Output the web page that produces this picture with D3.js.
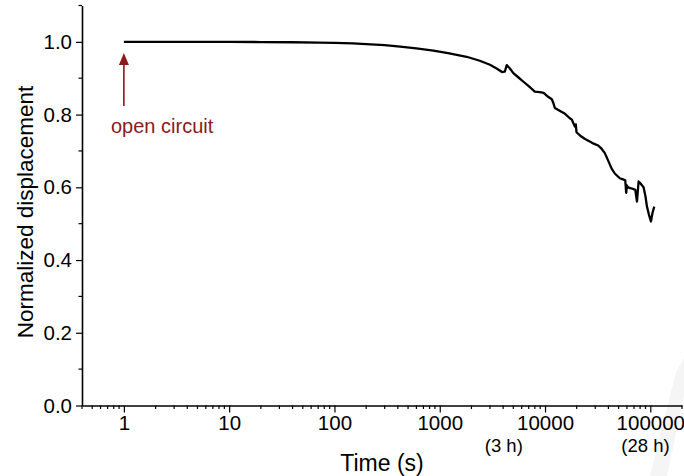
<!DOCTYPE html>
<html><head><meta charset="utf-8">
<script src="https://cdn.jsdelivr.net/npm/d3@7"></script>
<style>body{margin:0;background:#fff}svg{display:block}text{font-family:"Liberation Sans",Arial,sans-serif}</style>
</head><body>
<svg id="c" width="684" height="476"></svg>
<script>
const timeS = [1, 2, 5, 10, 20, 40, 70, 100, 150, 200, 300, 420, 600, 870, 1200, 1800, 2400, 3000, 3500, 3900, 4150, 4330, 4600, 5000, 5600, 6200, 7000, 8000, 8900, 9700, 10700, 11600, 12000, 12400, 13500, 15500, 17200, 18000, 19200, 19600, 19900, 20500, 21600, 24000, 26600, 29000, 32000, 34000, 37000, 40000, 42800, 46000, 51300, 55000, 57800, 59000, 60000, 61500, 64500, 68000, 72000, 73500, 74700, 77400, 80000, 86300, 90000, 92900, 97000, 101400, 105000, 109000];
const displacement = [1.000, 1.000, 1.000, 1.000, 0.9995, 0.999, 0.998, 0.997, 0.996, 0.994, 0.991, 0.987, 0.982, 0.976, 0.969, 0.959, 0.948, 0.937, 0.926, 0.917, 0.918, 0.936, 0.928, 0.914, 0.902, 0.891, 0.878, 0.863, 0.862, 0.860, 0.849, 0.842, 0.832, 0.818, 0.812, 0.802, 0.790, 0.786, 0.767, 0.773, 0.752, 0.748, 0.742, 0.733, 0.726, 0.720, 0.715, 0.708, 0.694, 0.672, 0.652, 0.638, 0.625, 0.622, 0.619, 0.585, 0.605, 0.600, 0.598, 0.596, 0.593, 0.575, 0.561, 0.616, 0.612, 0.600, 0.575, 0.547, 0.525, 0.506, 0.530, 0.547];
const xMajorTicks = [1, 10, 100, 1000, 10000, 100000];
const yMajorTicks = [0, 0.2, 0.4, 0.6, 0.8, 1.0];
const hourLabels = [{t: 4060, label: "(3 h)"}, {t: 90000, label: "(28 h)"}];
const annotation = {t: 1, label: "open circuit"};

const svg = d3.select("#c");
const x = d3.scaleLog().domain([0.4, 2e5]).range([82, 682]);
const y = d3.scaleLinear().domain([0, 1.1]).range([405.5, 5.5]);

// faint watermark band
svg.append("path").attr("d", "M676,372 L684,358 L684,395 L667,476 L650,476 Z").attr("fill", "#f5f5f5");

// minor ticks
const xMinor = [];
for (let e = -1; e <= 5; e++) for (let m = 1; m <= 9; m++) {
  const v = m * Math.pow(10, e);
  if (v >= 0.4 && v <= 2e5 && !xMajorTicks.includes(v)) xMinor.push(v);
}
const yMinor = d3.range(0.1, 1.15, 0.2);

const gx = svg.append("g").attr("transform", "translate(0,405.5)");
gx.call(d3.axisBottom(x).tickValues(xMajorTicks).tickFormat(d3.format("d")).tickSize(7).tickPadding(3).tickSizeOuter(0));
gx.selectAll("line.m").data(xMinor).join("line").attr("class", "m").attr("x1", d => x(d)).attr("x2", d => x(d)).attr("y1", 0).attr("y2", 3.5).attr("stroke", "#000").attr("stroke-width", 1.2);

const gy = svg.append("g").attr("transform", "translate(82,0)");
gy.call(d3.axisLeft(y).tickValues(yMajorTicks).tickFormat(d3.format(".1f")).tickSize(6).tickPadding(4).tickSizeOuter(0));
gy.selectAll("line.m").data(yMinor).join("line").attr("class", "m").attr("y1", d => y(d)).attr("y2", d => y(d)).attr("x1", 0).attr("x2", -3.5).attr("stroke", "#000").attr("stroke-width", 1.2);

svg.selectAll(".domain").attr("stroke", "#000").attr("stroke-width", 1.6);
svg.selectAll(".tick line").attr("stroke", "#000").attr("stroke-width", 1.2);
svg.selectAll("g").attr("font-size", null).attr("font-family", null);
svg.selectAll(".tick text").attr("font-size", 20.5).attr("fill", "#000");

// hour labels
svg.selectAll("text.h").data(hourLabels).join("text").attr("class", "h")
  .attr("x", d => x(d.t)).attr("y", 452).attr("text-anchor", "middle")
  .attr("font-size", 18.5).attr("fill", "#000").text(d => d.label);

// axis titles
svg.append("text").attr("x", 382).attr("y", 471).attr("text-anchor", "middle").attr("font-size", 23).attr("fill", "#000").text("Time (s)");
svg.append("text").attr("transform", "translate(33,212) rotate(-90)").attr("text-anchor", "middle").attr("font-size", 22.5).attr("fill", "#000").text("Normalized displacement");

// data line
const pts = timeS.map((t, i) => [t, displacement[i]]);
svg.append("path").datum(pts)
  .attr("d", d3.line().x(d => x(d[0])).y(d => y(d[1])))
  .attr("fill", "none").attr("stroke", "#000").attr("stroke-width", 2.3).attr("stroke-linejoin", "round");

// annotation arrow
const red = "#8b1a1a";
const ax = x(annotation.t);
svg.append("line").attr("x1", ax).attr("x2", ax).attr("y1", 106).attr("y2", 62).attr("stroke", red).attr("stroke-width", 1.6);
svg.append("path").attr("d", `M${ax},53 L${ax - 5},65 L${ax + 5},65 Z`).attr("fill", red);
svg.append("text").attr("x", 111).attr("y", 132.5).attr("font-size", 20).attr("fill", red).text(annotation.label);
</script>
</body></html>
